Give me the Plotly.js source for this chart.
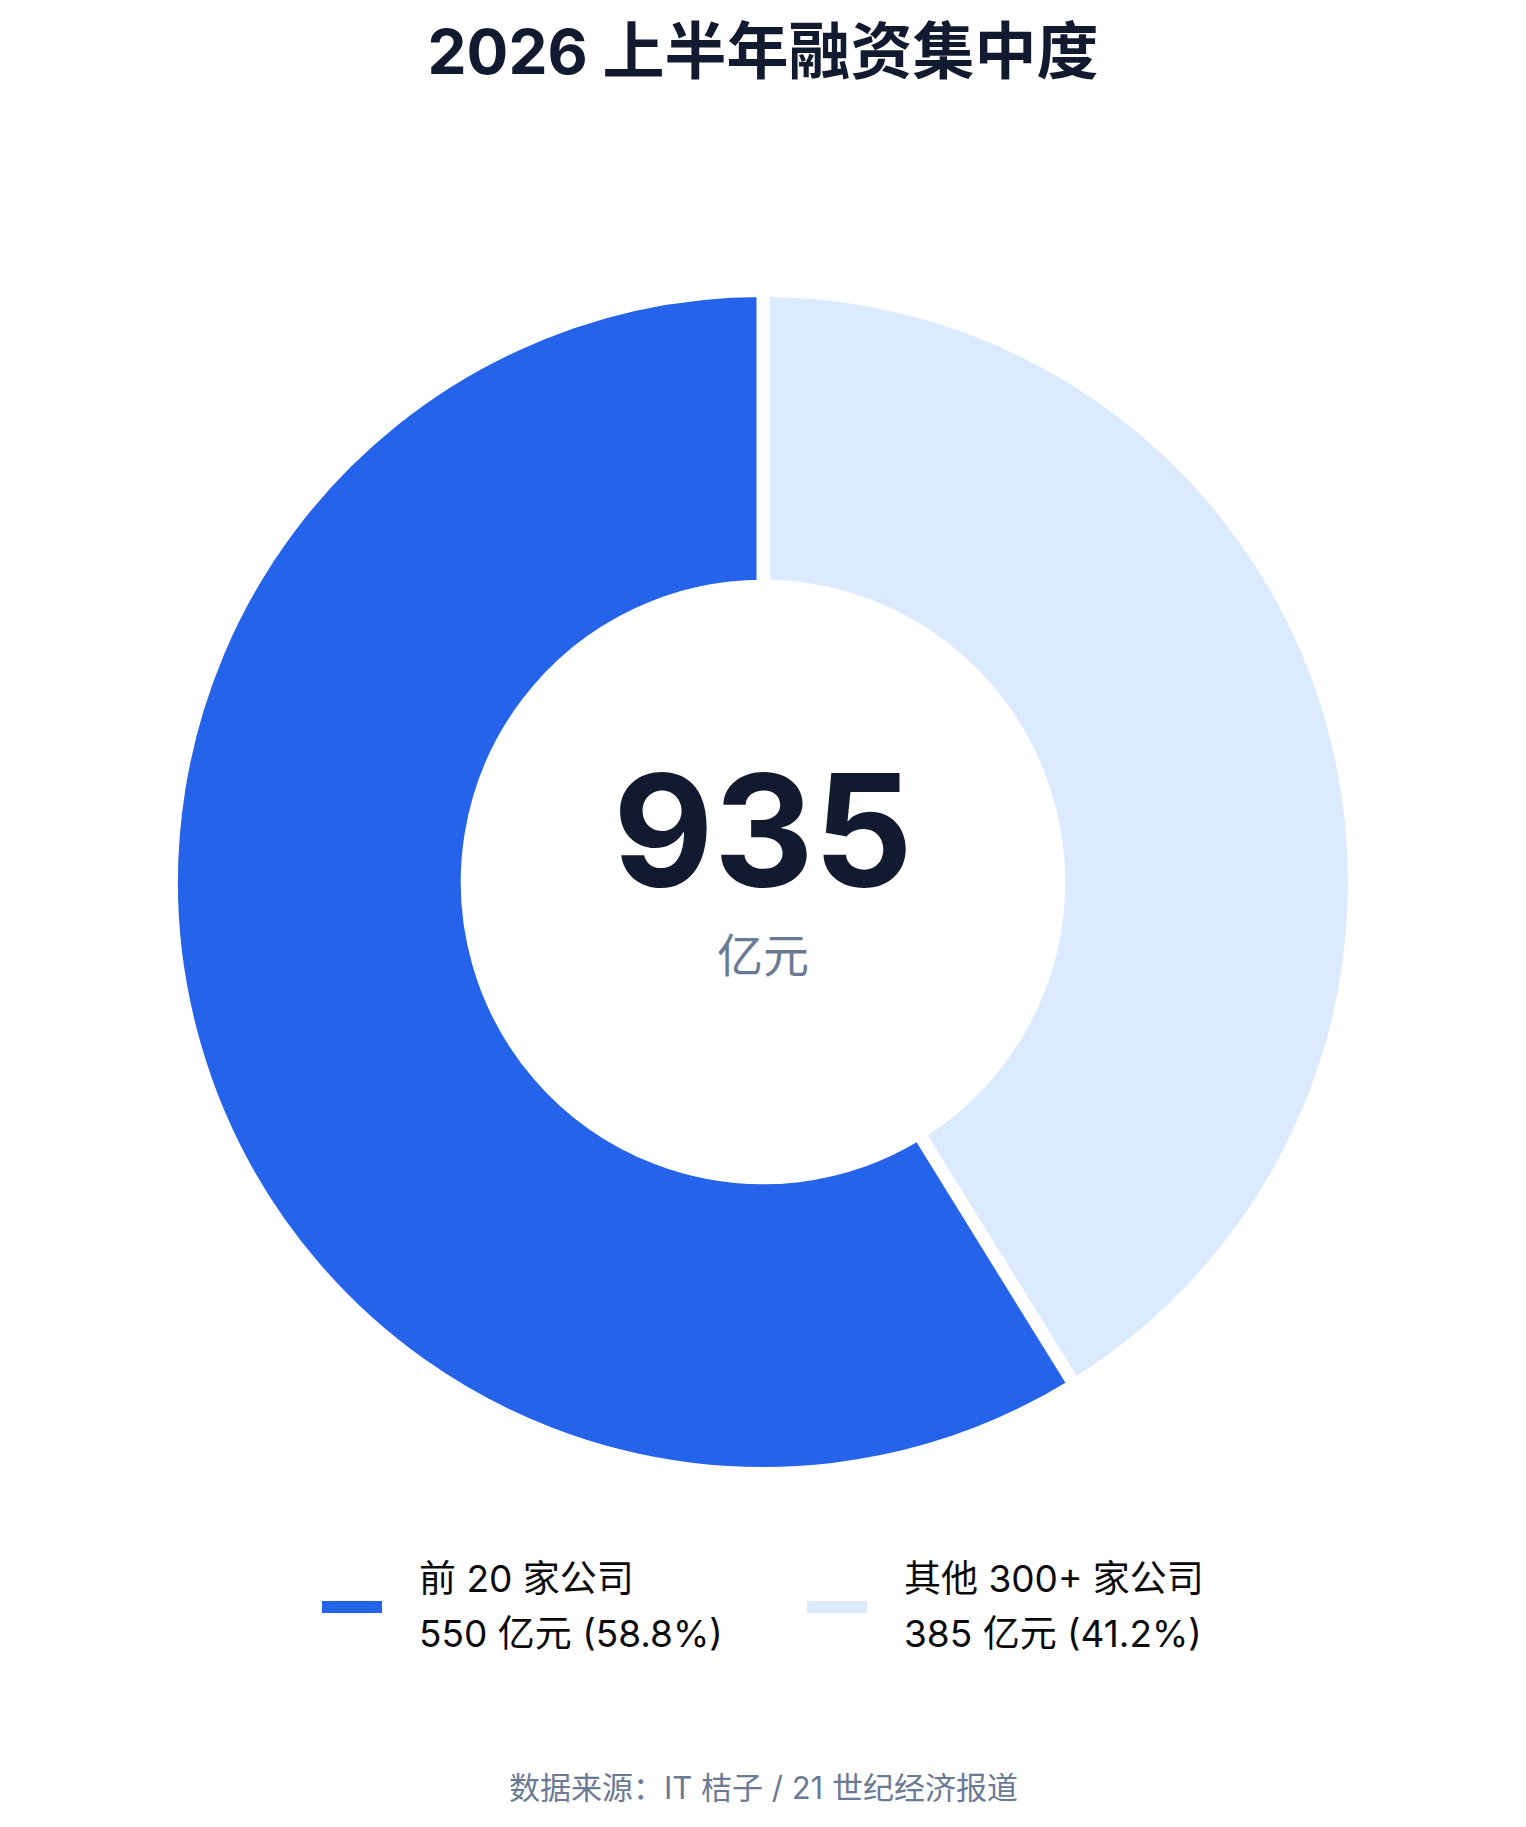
<!DOCTYPE html>
<html>
<head>
<meta charset="utf-8">
<script src="https://cdn.plot.ly/plotly-3.0.1.min.js"></script>
<style>html,body{margin:0;padding:0;background:#fff;}#chart{width:1526px;height:1827px;}</style>
</head>
<body>
<div id="chart"></div>
<script>
const titleText = "2026 上半年融资集中度";
const labels = ["前 20 家公司", "其他 300+ 家公司"];
const values = [550, 385];
const colors = ["#2563eb", "#dbeafe"];
const unit = "亿元";
const sourceText = "数据来源：IT 桔子 / 21 世纪经济报道";

const W = 1526, H = 1827;
const FONT = "Inter, 'Noto Sans CJK SC', sans-serif";
const total = values.reduce((a, b) => a + b, 0);
const py = v => 1 - v / H;
const px = v => v / W;

// slices drawn in reverse order so the largest share sits on the left side
const trace = {
  type: "pie",
  labels: labels.slice().reverse(),
  values: values.slice().reverse(),
  hole: 0.5,
  sort: false,
  direction: "clockwise",
  rotation: 0,
  textinfo: "none",
  hoverinfo: "none",
  showlegend: false,
  marker: { colors: colors.slice().reverse(), line: { color: "#ffffff", width: 13 } },
  domain: { x: [0, 1], y: [py(882 + 591.5), py(882 - 591.5)] }
};

const annotations = [
  { text: String(total), x: 0.5, y: py(830), xref: "paper", yref: "paper", showarrow: false,
    xanchor: "center", yanchor: "middle", font: { family: FONT, size: 155, color: "#111a2e", weight: 700 } },
  { text: unit, x: 0.5, y: py(955), xref: "paper", yref: "paper", showarrow: false,
    xanchor: "center", yanchor: "middle", font: { family: FONT, size: 46, color: "#6b7a94" } },
  { text: sourceText, x: 0.5, y: py(1787), xref: "paper", yref: "paper", showarrow: false,
    xanchor: "center", yanchor: "middle", font: { family: FONT, size: 31, color: "#6b7a94" } }
];
const shapes = [];
const legendX = [322, 807];
labels.forEach((lab, i) => {
  const pct = (values[i] / total * 100).toFixed(1);
  shapes.push({ type: "rect", xref: "paper", yref: "paper",
    x0: px(legendX[i]), x1: px(legendX[i] + 60), y0: py(1613), y1: py(1601),
    fillcolor: colors[i], line: { width: 0 } });
  annotations.push({ text: lab, x: px(legendX[i] + 95), y: py(1578), xref: "paper", yref: "paper",
    showarrow: false, xanchor: "left", yanchor: "middle", font: { family: FONT, size: 37, color: "#0a0a0a" } });
  annotations.push({ text: values[i] + " " + unit + " (" + pct + "%)", x: px(legendX[i] + 95), y: py(1633),
    xref: "paper", yref: "paper", showarrow: false, xanchor: "left", yanchor: "middle",
    font: { family: FONT, size: 37, color: "#0a0a0a" } });
});

const layout = {
  width: W, height: H,
  margin: { l: 0, r: 0, t: 0, b: 0 },
  paper_bgcolor: "#ffffff",
  plot_bgcolor: "#ffffff",
  title: { text: titleText, x: 0.5, xanchor: "center", y: py(52), yanchor: "middle", yref: "container",
    font: { family: FONT, size: 62, color: "#111a2e", weight: 700 } },
  showlegend: false,
  annotations: annotations,
  shapes: shapes
};

Plotly.newPlot("chart", [trace], layout, { displayModeBar: false, staticPlot: true });
</script>
</body>
</html>
